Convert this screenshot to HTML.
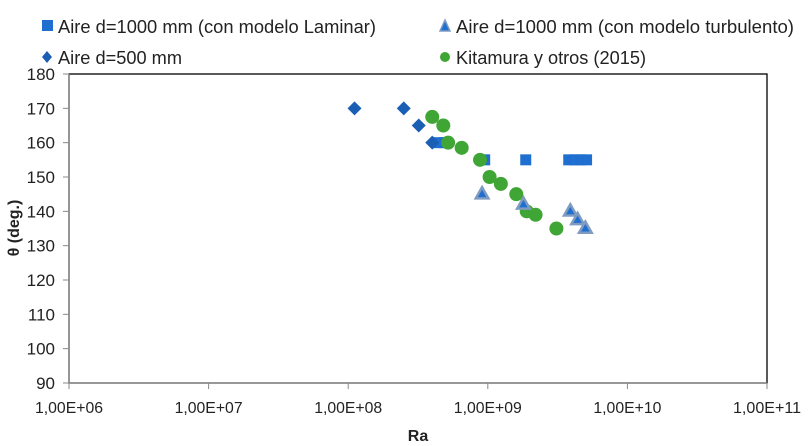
<!DOCTYPE html>
<html><head><meta charset="utf-8"><style>
body{margin:0;background:#fff;}
svg{display:block;font-family:"Liberation Sans",sans-serif;}
</style></head><body>
<svg id="chart" width="810" height="446"></svg>
<script>
const xTickExps=[6,7,8,9,10,11];
const xTickLabels=["1,00E+06","1,00E+07","1,00E+08","1,00E+09","1,00E+10","1,00E+11"];
const yTicks=[90,100,110,120,130,140,150,160,170,180];
const laminarX=[4.4e8,4.9e8,9.5e8,1.87e9,3.8e9,4.2e9,4.6e9,5.1e9];
const laminarY=[160,160,155,155,155,155,155,155];
const turbX=[9.1e8,1.8e9,3.9e9,4.4e9,5.0e9];
const turbY=[145,142,140,137.5,135];
const d500X=[1.11e8,2.5e8,3.2e8,4.0e8];
const d500Y=[170,170,165,160];
const kitX=[4.0e8,4.8e8,5.2e8,6.5e8,8.8e8,1.03e9,1.24e9,1.6e9,1.9e9,2.2e9,3.1e9];
const kitY=[167.5,165,160,158.5,155,150,148,145,140,139,135];

const NS="http://www.w3.org/2000/svg";
const svg=document.getElementById('chart');
const L=69,R=767,T=74,B=383;
function sx(v){return L+(Math.log10(v)-6)/5*(R-L);}
function sy(v){return B-(v-90)/90*(B-T);}
function el(tag,attrs,parent){const e=document.createElementNS(NS,tag);for(const k in attrs)e.setAttribute(k,attrs[k]);(parent||svg).appendChild(e);return e;}

const frame=el('rect',{x:L,y:T,width:R-L,height:B-T,fill:'none',stroke:'#000','stroke-width':1.3});


const ax=el('line',{x1:L,y1:B,x2:R,y2:B,stroke:'#888','stroke-width':1.3});


const ay=el('line',{x1:L,y1:T,x2:L,y2:B,stroke:'#888','stroke-width':1.3});



xTickExps.forEach((e,i)=>{
  const x=sx(Math.pow(10,e));
  const t=el('line',{x1:x,y1:B,x2:x,y2:B+6,stroke:'#888'});
  
  
  const tx=el('text',{x:x,y:B+30,'text-anchor':'middle','font-size':16,fill:'#222',textLength:68,lengthAdjust:'spacingAndGlyphs'});
  tx.textContent=xTickLabels[i];
  
  
});
yTicks.forEach(v=>{
  const y=sy(v);
  const t=el('line',{x1:L-6,y1:y,x2:L,y2:y,stroke:'#888'});
  
  
  const tx=el('text',{x:L-14,y:y+6,'text-anchor':'end','font-size':17,fill:'#222'});
  tx.textContent=v;
  
  
});
const xt=el('text',{x:418,y:441,'text-anchor':'middle','font-size':16,'font-weight':'bold',fill:'#222'});
xt.textContent='Ra';


const yt=el('text',{x:0,y:0,'text-anchor':'middle','font-size':16,'font-weight':'bold',fill:'#222',transform:'translate(19,228) rotate(-90)'});
yt.textContent='θ (deg.)';



const blue='#1f6fd0',dblue='#1a5fb4',green='#3fa535';
function square(x,y,s,g){return el('rect',{x:x-s/2,y:y-s/2,width:s,height:s,fill:blue},g);}
function tri(x,y,s,g){return el('polygon',{points:`${x},${y-s} ${x-s*0.9},${y+s*0.6} ${x+s*0.9},${y+s*0.6}`,fill:blue,stroke:'#7f9cc0','stroke-width':2.5},g);}
function diamond(x,y,s,g){return el('polygon',{points:`${x},${y-s} ${x+s},${y} ${x},${y+s} ${x-s},${y}`,fill:dblue},g);}
function circle(x,y,r,g){return el('circle',{cx:x,cy:y,r:r,fill:green},g);}

const g1=el('g',{});
laminarX.forEach((v,i)=>{const m=square(sx(v),sy(laminarY[i]),11,g1);});
const g3=el('g',{});
d500X.forEach((v,i)=>{const m=diamond(sx(v),sy(d500Y[i]),7,g3);});
const g4=el('g',{});
kitX.forEach((v,i)=>{const m=circle(sx(v),sy(kitY[i]),7,g4);});
const g2=el('g',{});
turbX.forEach((v,i)=>{const m=tri(sx(v),sy(turbY[i]),7,g2);});

// legend
const leg=[
 {x:42,y:26,shape:'sq',label:'Aire d=1000 mm (con modelo Laminar)',w:318},
 {x:440,y:26,shape:'tri',label:'Aire d=1000 mm (con modelo turbulento)',w:338},
 {x:42,y:57,shape:'dia',label:'Aire d=500 mm',w:124},
 {x:440,y:57,shape:'cir',label:'Kitamura y otros (2015)',w:190}];
leg.forEach(o=>{
  const g=el('g',{});
  
  
  if(o.shape==='sq')el('rect',{x:o.x,y:o.y-6,width:11,height:11,fill:blue},g);
  if(o.shape==='tri')el('polygon',{points:`${o.x+5},${o.y-6} ${o.x},${o.y+5} ${o.x+10},${o.y+5}`,fill:blue,stroke:'#7f9cc0','stroke-width':1.5},g);
  if(o.shape==='dia')el('polygon',{points:`${o.x+5},${o.y-6} ${o.x+10},${o.y} ${o.x+5},${o.y+6} ${o.x},${o.y}`,fill:dblue},g);
  if(o.shape==='cir')el('circle',{cx:o.x+5,cy:o.y,r:5,fill:green},g);
  const t=el('text',{x:o.x+16,y:o.y+7,'font-size':18,fill:'#222',textLength:o.w,lengthAdjust:'spacingAndGlyphs'},g);
  t.textContent=o.label;
});
</script>
</body></html>
